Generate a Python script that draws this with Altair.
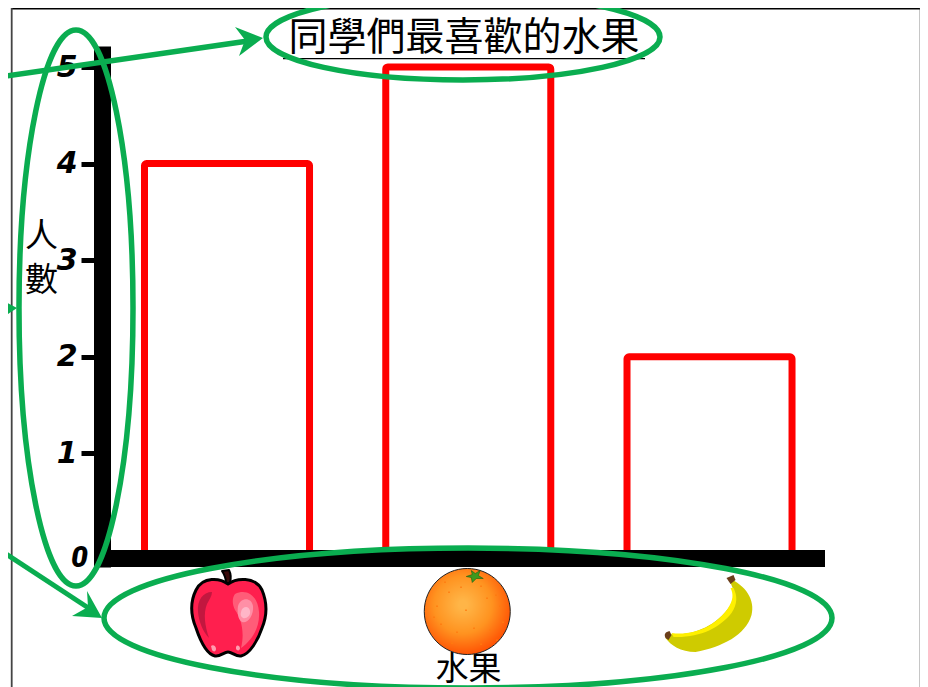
import altair as alt
import pandas as pd

fruits = ["蘋果", "橘子", "香蕉"]
counts = [4, 5, 2]
y_ticks = [1, 2, 3, 4, 5]
title_text = "同學們最喜歡的水果"
x_title = "水果"
y_title = ["人", "數"]

GREEN = "#0AAD50"
CJK = "Noto Sans CJK TC"
OX, OY = 94, 46  # page position of the plot's top-left corner
W, H = 731, 521
UNIT = 96.6
BOTTOM_VALUE = -17 / UNIT
TOP_VALUE = 504 / UNIT

df = pd.DataFrame({"fruit": fruits, "count": counts})

x_scale = alt.Scale(domain=fruits, paddingInner=0.316, paddingOuter=0.173, align=0.605)
y_scale = alt.Scale(domain=[BOTTOM_VALUE, TOP_VALUE], nice=False, zero=False)
x_axis = alt.Axis(
    title=x_title, titleFont=CJK, titleFontSize=33, titleFontWeight="normal", titleColor="black",
    labels=False, ticks=False, domain=False, grid=False, titleX=374, titleY=102,
    titleBaseline="middle", titleAlign="center")
fx = alt.X("fruit:N", sort=None, scale=x_scale, axis=x_axis)

bars = alt.Chart(df).mark_bar(
    fill="white", stroke="#FF0000", strokeWidth=7, strokeJoin="round", cornerRadius=2
).encode(
    x=fx,
    y=alt.Y("count:Q", scale=y_scale, axis=alt.Axis(
        values=y_ticks, grid=False, offset=-8, domainColor="black", domainWidth=17,
        tickColor="black", tickSize=21, tickWidth=5, labelPadding=4,
        labelFont="DejaVu Sans", labelFontWeight="bold", labelFontStyle="italic", labelFontSize=30,
        labelColor="black", title=y_title, titleFont=CJK, titleFontSize=33, titleFontWeight="normal",
        titleColor="black", titleAngle=0, titleX=-61, titleY=174, titleAlign="center",
        titleBaseline="top", titleLineHeight=44)),
    y2=alt.datum(-0.05),
)

ann = pd.DataFrame({"k": [0]})


def shape(path, px, py, fill=None, stroke=None, sw=0, data=ann, x=None):
    """A fixed drawing: path in page pixels relative to the anchor (px, py)."""
    kw = dict(shape=path, size=4, opacity=1, filled=fill is not None, strokeJoin="round")
    if fill is not None:
        kw["fill"] = fill
        kw["fillOpacity"] = 1
    if stroke is not None:
        kw["stroke"] = stroke
        kw["strokeWidth"] = sw
        kw["strokeOpacity"] = 1
    else:
        kw["strokeWidth"] = 0
    enc = dict(y=alt.value(py - OY))
    enc["x"] = x if x is not None else alt.value(px - OX)
    return alt.Chart(data).mark_point(**kw).encode(**enc)


def line(x1, y1, x2, y2, color, width):
    return alt.Chart(ann).mark_rule(color=color, strokeWidth=width).encode(
        x=alt.value(x1 - OX), y=alt.value(y1 - OY), x2=alt.value(x2 - OX), y2=alt.value(y2 - OY))


def ellipse(cx, cy, rx, ry):
    return shape(f"M{-rx},0A{rx},{ry} 0 1,1 {rx},0A{rx},{ry} 0 1,1 {-rx},0Z", cx, cy, stroke=GREEN, sw=5.5)


frame = [
    line(11.7, 8.5, 921, 8.5, "black", 1.8),
    line(11.7, 8, 11.7, 687, "#444444", 1.8),
    line(920.7, 8, 920.7, 687, "#444444", 2),
]
x_band = line(94, 558.5, 825, 558.5, "black", 17)
underline = line(283, 58.7, 645, 58.7, "black", 1.3)

title_mark = alt.Chart(ann).mark_text(
    text=title_text, font=CJK, fontSize=39, color="black", align="center", baseline="middle"
).encode(x=alt.value(464 - OX), y=alt.value(38 - OY))

zero_label = alt.Chart(ann).mark_text(
    text="0", font="Roboto", fontWeight=900, fontStyle="italic", fontSize=30,
    color="black", align="center", baseline="middle"
).encode(x=alt.value(79.5 - OX), y=alt.value(558 - OY))

# fruit pictures, one per category, on the category scale
one = lambda i: df.iloc[[i]]

apple = [
    shape("M-1,-36C-1,-41 -3,-45 -5,-48L2,-49C4,-45 4,-40 3,-36Z", 0, 619, fill="#3A0A0A", stroke="black", sw=2, data=one(0), x=fx),
    shape("M1,-34C-7,-40 -24,-42 -31,-28C-37,-16 -36,-2 -31,10C-27,22 -21,36 -12,38C-7,39 -3,34 1,34C5,34 9,39 14,38C23,36 31,22 35,10C40,-2 40,-16 35,-28C28,-42 9,-40 1,-34Z",
          0, 618, fill="#FF1F4E", stroke="black", sw=3, data=one(0), x=fx),
    shape("M-15,-26C-24,-26 -30,-18 -29,-6C-28,4 -24,14 -18,20C-22,8 -24,-4 -20,-14C-18,-18 -15,-22 -15,-26Z", 0, 618, fill="#C2173F", data=one(0), x=fx),
    shape("M8,-24C20,-30 31,-22 32,-6C33,8 26,22 14,30C18,14 14,0 8,-8C5,-14 5,-20 8,-24Z", 0, 618, fill="#FF5C78", data=one(0), x=fx),
    shape("M11,-12C13,-20 24,-22 26,-12C27,-2 20,6 15,4C11,2 10,-6 11,-12Z", 0, 618, fill="#FF8FA6", data=one(0), x=fx),
    shape("M14,-6C15,-12 22,-13 23,-7C24,-2 19,1 16,0C14,-1 13,-3 14,-6Z", 0, 618, fill="#FFB6C8", data=one(0), x=fx),
    shape("M-16,28C-14,26 -11,28 -11,31C-11,34 -14,34 -15,32Z M9,29C10,27 12,27 13,30C13,33 10,33 9,31Z", 0, 618, fill="#FF9DB0", data=one(0), x=fx),
]

orange_grad = alt.RadialGradient(
    gradient="radial", x1=0.45, y1=0.42, r1=0.05, x2=0.45, y2=0.42, r2=0.62,
    stops=[alt.GradientStop(offset=0, color="#FFB547"), alt.GradientStop(offset=0.5, color="#FF9320"), alt.GradientStop(offset=1, color="#FF4A00")],
)
orange_dots = ("M-20,-20h1.5v1.5h-1.5Z M-8,-25h1.5v1.5h-1.5Z M12,-26h1.5v1.5h-1.5Z M27,-17h1.5v1.5h-1.5Z M-32,-6h1.5v1.5h-1.5Z "
               "M31,-6h1.5v1.5h-1.5Z M-28,12h1.5v1.5h-1.5Z M-12,20h1.5v1.5h-1.5Z M5,16h1.5v1.5h-1.5Z M21,18h1.5v1.5h-1.5Z "
               "M34,10h1.5v1.5h-1.5Z M-17,31h1.5v1.5h-1.5Z M12,32h1.5v1.5h-1.5Z M28,28h1.5v1.5h-1.5Z M-35,5h1.5v1.5h-1.5Z "
               "M-3,-2h1.5v1.5h-1.5Z M18,-14h1.5v1.5h-1.5Z M-24,-30h1.5v1.5h-1.5Z")
orange = [
    alt.Chart(one(1)).mark_point(
        shape="M-44,0A43,43 0 1,1 42,0A43,43 0 1,1 -44,0Z", size=4, opacity=1, filled=True, fill=orange_grad,
        fillOpacity=1, stroke="#222222", strokeWidth=1, strokeOpacity=1,
    ).encode(x=fx, y=alt.value(611.5 - OY)),
    shape(orange_dots, 0, 611.5, fill="#FF7A10", data=one(1), x=fx),
    shape("M3,-41L7,-38L12,-41L10,-36L15,-33L8,-33L4,-29L3,-34L-2,-35L4,-37Z", 0, 611.5, fill="#3E9A1E", stroke="#1F5A10", sw=0.6, data=one(1), x=fx),
]

banana = [
    shape("M19,-34C36,-27 46,-12 42,3C36,23 13,35 -14,40C-29,40 -39,33 -44,26L-41,22C-19,24 6,16 21,-7C27,-17 24,-22 21,-29Z",
          0, 612, fill="#CFCB00", data=one(2), x=fx),
    shape("M24,-24C28,-16 28,-8 22,1C10,16 -10,26 -36,25L-38,21C-15,24 6,14 18,-3C24,-12 24,-18 21,-24Z", 0, 612, fill="#FFF000", data=one(2), x=fx),
    shape("M17,-34L24,-37L26,-32L21,-28Z", 0, 612, fill="#6B3E1A", data=one(2), x=fx),
    shape("M-44,26C-46,22 -44,20 -40,19L-38,23L-41,28Z", 0, 612, fill="#6B3E1A", data=one(2), x=fx),
]

green_layers = [
    ellipse(76, 308, 57, 278),
    ellipse(463, 37, 197, 43),
    ellipse(468, 618, 364, 70),
    line(0, 77, 248, 41, GREEN, 5.5),
    shape("M263,38L235,27L245,40L239,56Z", 0, 0, fill=GREEN),
    line(0, 550, 90, 609, GREEN, 5),
    shape("M102,618L87,591L88,607L72,616Z", 0, 0, fill=GREEN),
    shape("M17,308L-6,296L0,310L-4,322Z", 0, 0, fill=GREEN),
]

layers = [bars, *frame, x_band, underline, title_mark, zero_label, *apple, *orange, *banana, *green_layers]

chart = alt.layer(*layers).resolve_scale(x="shared", y="shared").properties(
    width=W, height=H,
    padding={"left": OX - 8, "top": OY - 8, "right": 928 - 8 - (OX + W), "bottom": 687 - (OY + H)},
    autosize=alt.AutoSizeParams(type="none"),
).configure_view(stroke=None)

chart.save("out.html", embed_options={"renderer": "svg", "actions": False})
